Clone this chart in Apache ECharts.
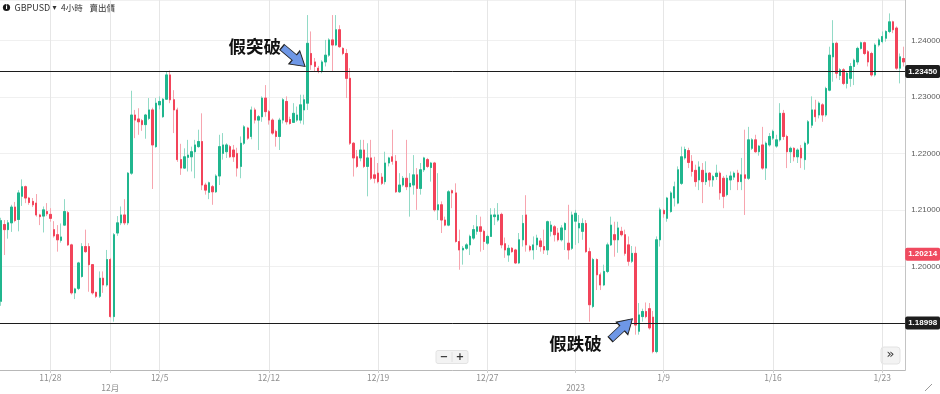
<!DOCTYPE html>
<html><head><meta charset="utf-8">
<script src="https://cdn.jsdelivr.net/npm/echarts/dist/echarts.min.js"></script>
<style>html,body{margin:0;padding:0;background:#fff}#c{width:940px;height:394px}</style>
</head><body><div id="c"></div>
<script>
// GBPUSD 4h bars: [open, close, low, high]
const bars = [
[1.1938,1.2081,1.1930,1.2086],[1.2074,1.2065,1.2020,1.2082],[1.2065,1.2077,1.2049,1.2082],[1.2077,1.2105,1.2061,1.2109],
[1.2105,1.2081,1.2078,1.2114],[1.2083,1.2130,1.2062,1.2135],[1.2124,1.2141,1.2107,1.2154],[1.2141,1.2121,1.2112,1.2143],
[1.2121,1.2113,1.2109,1.2123],[1.2115,1.2109,1.2105,1.2121],[1.2112,1.2091,1.2088,1.2128],[1.2091,1.2088,1.2073,1.2093],
[1.2089,1.2100,1.2060,1.2106],[1.2097,1.2093,1.2089,1.2112],[1.2092,1.2085,1.2079,1.2103],[1.2065,1.2054,1.2051,1.2080],
[1.2056,1.2047,1.2026,1.2073],[1.2046,1.2052,1.2042,1.2076],[1.2073,1.2097,1.2072,1.2119],[1.2095,1.2038,1.2036,1.2098],
[1.2038,1.1953,1.1950,1.2040],[1.1953,1.1960,1.1942,1.1962],[1.1961,1.2006,1.1958,1.2008],[1.1982,1.2035,1.1980,1.2041],
[1.2035,1.2026,1.2024,1.2065],[1.2035,1.2003,1.1955,1.2041],[1.2003,1.1953,1.1950,1.2004],[1.1954,1.1947,1.1944,1.1955],
[1.1947,1.1979,1.1944,1.1991],[1.1979,1.1967,1.1953,1.1991],[1.1967,1.2012,1.1964,1.2029],[1.2012,1.1911,1.1909,1.2015],
[1.1911,1.2056,1.1902,1.2059],[1.2059,1.2077,1.2054,1.2089],[1.2077,1.2091,1.2073,1.2106],[1.2091,1.2077,1.2073,1.2119],
[1.2077,1.2165,1.2073,1.2167],[1.2165,1.2268,1.2162,1.2311],[1.2268,1.2259,1.2227,1.2277],[1.2261,1.2256,1.2233,1.2280],
[1.2258,1.2251,1.2240,1.2261],[1.2251,1.2268,1.2226,1.2270],[1.2262,1.2277,1.2259,1.2298],[1.2277,1.2215,1.2137,1.2281],
[1.2212,1.2289,1.2210,1.2298],[1.2286,1.2292,1.2278,1.2301],[1.2265,1.2296,1.2263,1.2298],[1.2296,1.2339,1.2295,1.2345],
[1.2339,1.2295,1.2289,1.2347],[1.2295,1.2277,1.2236,1.2312],[1.2277,1.2189,1.2185,1.2281],[1.2189,1.2174,1.2162,1.2217],
[1.2174,1.2194,1.2173,1.2209],[1.2193,1.2197,1.2168,1.2224],[1.2194,1.2203,1.2168,1.2212],[1.2203,1.2215,1.2156,1.2224],
[1.2212,1.2221,1.2210,1.2242],[1.2221,1.2144,1.2135,1.2271],[1.2144,1.2135,1.2127,1.2148],[1.2131,1.2148,1.2119,1.2150],
[1.2141,1.2132,1.2109,1.2144],[1.2132,1.2160,1.2130,1.2163],[1.2160,1.2212,1.2144,1.2233],[1.2200,1.2215,1.2189,1.2236],
[1.2203,1.2215,1.2192,1.2218],[1.2212,1.2194,1.2192,1.2215],[1.2206,1.2194,1.2185,1.2215],[1.2200,1.2174,1.2159,1.2210],
[1.2177,1.2218,1.2156,1.2230],[1.2218,1.2247,1.2215,1.2250],[1.2245,1.2227,1.2224,1.2247],[1.2230,1.2277,1.2225,1.2283],
[1.2277,1.2259,1.2253,1.2281],[1.2259,1.2265,1.2206,1.2268],[1.2265,1.2298,1.2256,1.2301],[1.2298,1.2274,1.2265,1.2321],
[1.2274,1.2259,1.2251,1.2277],[1.2259,1.2236,1.2233,1.2262],[1.2239,1.2230,1.2212,1.2242],[1.2230,1.2259,1.2206,1.2263],
[1.2259,1.2295,1.2253,1.2298],[1.2292,1.2256,1.2251,1.2301],[1.2260,1.2253,1.2251,1.2265],[1.2255,1.2271,1.2254,1.2289],
[1.2259,1.2268,1.2256,1.2283],[1.2259,1.2286,1.2253,1.2304],[1.2277,1.2295,1.2251,1.2304],[1.2289,1.2395,1.2277,1.2445],
[1.2377,1.2357,1.2348,1.2416],[1.2362,1.2354,1.2345,1.2369],[1.2351,1.2345,1.2342,1.2355],[1.2345,1.2362,1.2342,1.2365],
[1.2362,1.2374,1.2354,1.2401],[1.2374,1.2401,1.2371,1.2404],[1.2401,1.2392,1.2345,1.2445],[1.2392,1.2419,1.2390,1.2445],
[1.2419,1.2389,1.2387,1.2427],[1.2386,1.2377,1.2374,1.2388],[1.2377,1.2333,1.2298,1.2385],[1.2333,1.2218,1.2215,1.2351],
[1.2218,1.2192,1.2159,1.2220],[1.2194,1.2177,1.2174,1.2206],[1.2192,1.2206,1.2186,1.2224],[1.2206,1.2177,1.2174,1.2224],
[1.2177,1.2192,1.2124,1.2218],[1.2192,1.2156,1.2153,1.2224],[1.2162,1.2156,1.2147,1.2194],[1.2165,1.2150,1.2147,1.2183],
[1.2158,1.2147,1.2144,1.2165],[1.2150,1.2183,1.2145,1.2203],[1.2183,1.2192,1.2177,1.2194],[1.2194,1.2186,1.2180,1.2242],
[1.2186,1.2132,1.2130,1.2197],[1.2132,1.2144,1.2130,1.2165],[1.2144,1.2156,1.2141,1.2160],[1.2156,1.2141,1.2135,1.2224],
[1.2141,1.2147,1.2088,1.2165],[1.2144,1.2162,1.2127,1.2197],[1.2162,1.2138,1.2100,1.2174],[1.2138,1.2171,1.2127,1.2183],
[1.2171,1.2192,1.2167,1.2194],[1.2189,1.2177,1.2174,1.2192],[1.2175,1.2183,1.2150,1.2185],[1.2183,1.2100,1.2097,1.2185],
[1.2100,1.2109,1.2082,1.2165],[1.2109,1.2082,1.2059,1.2115],[1.2082,1.2073,1.2071,1.2088],[1.2073,1.2132,1.2071,1.2135],
[1.2134,1.2130,1.2103,1.2136],[1.2130,1.2044,1.2042,1.2147],[1.2044,1.2029,1.1994,1.2065],[1.2029,1.2032,1.2003,1.2036],
[1.2032,1.2038,1.2029,1.2041],[1.2038,1.2053,1.2020,1.2056],[1.2050,1.2065,1.2047,1.2073],[1.2062,1.2070,1.2056,1.2091],
[1.2070,1.2062,1.2026,1.2088],[1.2062,1.2044,1.2029,1.2065],[1.2041,1.2053,1.2038,1.2056],[1.2053,1.2091,1.2052,1.2103],
[1.2088,1.2091,1.2073,1.2103],[1.2082,1.2091,1.2079,1.2112],[1.2092,1.2038,1.2032,1.2095],[1.2040,1.2029,1.2015,1.2051],
[1.2020,1.2032,1.2008,1.2038],[1.2032,1.2026,1.2024,1.2034],[1.2029,1.2006,1.2004,1.2031],[1.2006,1.2047,1.2004,1.2059],
[1.2047,1.2076,1.2035,1.2091],[1.2091,1.2038,1.2026,1.2126],[1.2035,1.2029,1.2026,1.2038],[1.2029,1.2038,1.2012,1.2053],
[1.2038,1.2050,1.2029,1.2056],[1.2045,1.2035,1.2026,1.2050],[1.2035,1.2029,1.2022,1.2065],[1.2029,1.2079,1.2020,1.2081],
[1.2062,1.2073,1.2053,1.2080],[1.2070,1.2056,1.2044,1.2073],[1.2059,1.2047,1.2044,1.2068],[1.2047,1.2068,1.2044,1.2073],
[1.2065,1.2076,1.2029,1.2078],[1.2041,1.2029,1.2012,1.2109],[1.2032,1.2091,1.2029,1.2097],[1.2080,1.2094,1.2038,1.2100],
[1.2068,1.2076,1.2041,1.2091],[1.2062,1.2076,1.2047,1.2085],[1.2076,1.2026,1.2024,1.2082],[1.2026,1.1932,1.1902,1.2033],
[1.1929,1.2012,1.1926,1.2015],[1.2012,1.1985,1.1958,1.2014],[1.1985,1.1967,1.1958,1.1989],[1.1967,1.1991,1.1965,1.2003],
[1.1991,1.2038,1.1988,1.2042],[1.2038,1.2073,1.2036,1.2088],[1.2056,1.2047,1.2017,1.2079],[1.2047,1.2068,1.2024,1.2079],
[1.2062,1.2056,1.2053,1.2070],[1.2056,1.2023,1.2019,1.2065],[1.2038,1.2009,1.2001,1.2053],[1.2009,1.2023,1.2006,1.2036],
[1.2023,1.1896,1.1879,1.2035],[1.1885,1.1914,1.1879,1.1935],[1.1911,1.1920,1.1902,1.1925],[1.1920,1.1911,1.1908,1.1936],
[1.1925,1.1891,1.1888,1.1935],[1.1910,1.1849,1.1846,1.1921],[1.1849,1.2047,1.1846,1.2053],[1.2047,1.2100,1.2035,1.2104],
[1.2099,1.2093,1.2086,1.2102],[1.2085,1.2121,1.2079,1.2123],[1.2097,1.2130,1.2095,1.2133],[1.2121,1.2141,1.2106,1.2150],
[1.2112,1.2171,1.2110,1.2177],[1.2147,1.2194,1.2144,1.2212],[1.2192,1.2207,1.2189,1.2212],[1.2205,1.2184,1.2174,1.2210],
[1.2186,1.2168,1.2159,1.2197],[1.2170,1.2150,1.2141,1.2180],[1.2153,1.2176,1.2135,1.2186],[1.2170,1.2150,1.2112,1.2183],
[1.2150,1.2165,1.2144,1.2186],[1.2165,1.2153,1.2141,1.2167],[1.2153,1.2159,1.2141,1.2162],[1.2159,1.2165,1.2153,1.2180],
[1.2165,1.2130,1.2118,1.2168],[1.2156,1.2124,1.2103,1.2160],[1.2127,1.2156,1.2124,1.2162],[1.2153,1.2160,1.2135,1.2168],
[1.2158,1.2165,1.2153,1.2168],[1.2165,1.2150,1.2135,1.2171],[1.2150,1.2162,1.2135,1.2192],[1.2162,1.2156,1.2091,1.2242],
[1.2156,1.2224,1.2153,1.2247],[1.2209,1.2224,1.2206,1.2227],[1.2224,1.2203,1.2201,1.2233],[1.2203,1.2213,1.2196,1.2215],
[1.2215,1.2174,1.2171,1.2247],[1.2174,1.2218,1.2153,1.2221],[1.2215,1.2230,1.2212,1.2236],[1.2227,1.2239,1.2224,1.2242],
[1.2213,1.2224,1.2210,1.2233],[1.2224,1.2271,1.2221,1.2289],[1.2271,1.2230,1.2224,1.2277],[1.2230,1.2203,1.2174,1.2233],
[1.2203,1.2209,1.2183,1.2212],[1.2209,1.2194,1.2186,1.2211],[1.2194,1.2206,1.2183,1.2209],[1.2209,1.2192,1.2174,1.2215],
[1.2189,1.2218,1.2171,1.2221],[1.2218,1.2256,1.2215,1.2259],[1.2250,1.2277,1.2245,1.2301],[1.2277,1.2265,1.2256,1.2295],
[1.2268,1.2289,1.2262,1.2292],[1.2286,1.2268,1.2256,1.2289],[1.2268,1.2315,1.2265,1.2318],[1.2312,1.2374,1.2310,1.2389],
[1.2371,1.2395,1.2327,1.2436],[1.2395,1.2342,1.2333,1.2398],[1.2338,1.2348,1.2330,1.2351],[1.2348,1.2324,1.2321,1.2351],
[1.2324,1.2342,1.2315,1.2345],[1.2333,1.2354,1.2318,1.2360],[1.2354,1.2365,1.2321,1.2368],[1.2362,1.2386,1.2357,1.2389],
[1.2386,1.2396,1.2384,1.2398],[1.2396,1.2377,1.2374,1.2398],[1.2380,1.2362,1.2354,1.2383],[1.2377,1.2339,1.2336,1.2380],
[1.2339,1.2392,1.2336,1.2395],[1.2392,1.2401,1.2389,1.2404],[1.2398,1.2407,1.2395,1.2416],[1.2404,1.2416,1.2398,1.2418],
[1.2416,1.2433,1.2413,1.2448],[1.2433,1.2419,1.2413,1.2435],[1.2422,1.2351,1.2348,1.2425],[1.2351,1.2371,1.2324,1.2377],
[1.2368,1.2362,1.2354,1.2389]
];
// bar index where each week / month starts, with its label
const weekStarts = [14, 45, 76, 107, 138, 188, 219, 250];
const weekLabels = ['11/28', '12/5', '12/12', '12/19', '12/27', '1/9', '1/16', '1/23'];
const monthStarts = [31, 163];
const monthLabels = ['12月', '2023'];
// horizontal levels and the price tag
const levels = [1.2345, 1.18998];
const priceTag = 1.20214;
const notes = ['假突破', '假跌破'];

const UP = '#20b68e', DN = '#f2445a', UPW = '#92dac6', DNW = '#f7a5af';
const FONT = '"Noto Sans CJK TC", "Liberation Sans", sans-serif';
const cats = bars.map((_, i) => String(i));
const weekMap = {}; weekStarts.forEach((k, j) => { weekMap[k] = weekLabels[j]; });
const monthMap = {}; monthStarts.forEach((k, j) => { monthMap[k] = monthLabels[j]; });
const isWeek = i => weekMap[i] !== undefined;
const isMonth = i => monthMap[i] !== undefined;
const isLine = i => isWeek(i) || isMonth(i);
const bodies = bars.map(b => [b[0], b[1], Math.min(b[0], b[1]), Math.max(b[0], b[1])]);

const tag = (val, bg, line) => ({
  yAxis: val,
  lineStyle: { color: line ? '#1c1c1c' : 'rgba(0,0,0,0)', width: 1, type: 'solid' },
  label: { show: true, position: 'end', distance: 0, formatter: val.toFixed(5),
    backgroundColor: bg, color: '#fff', fontWeight: 'bold', fontSize: 8,
    fontFamily: '"Liberation Sans", sans-serif', padding: [3, 3, 2, 3], borderRadius: 2 }
});
const ARROW = 'path://M0,5 L16,5 L16,0 L30,8.5 L16,17 L16,12 L0,12 Z';
const noteText = (txt, c) => ({ coord: c, symbol: 'rect', symbolSize: 1,
  itemStyle: { color: 'rgba(0,0,0,0)' },
  label: { show: true, position: 'inside', formatter: txt, color: '#111', fontSize: 17.5,
    fontWeight: 'bold', fontFamily: FONT } });
const noteArrow = (c, rot) => ({ coord: c, symbol: ARROW, symbolSize: [30, 17], symbolRotate: rot,
  itemStyle: { color: '#6e97e6', borderColor: '#222', borderWidth: 1 }, label: { show: false } });

const chart = echarts.init(document.getElementById('c'));
chart.setOption({
  animation: false,
  backgroundColor: '#fff',
  grid: { left: -0.76, right: 34.83, top: 0, height: 370, containLabel: false, outerBoundsMode: 'none' },
  xAxis: [
    { type: 'category', data: cats, boundaryGap: true,
      axisLine: { lineStyle: { color: '#b8b8b8' } },
      axisTick: { show: true, interval: i => isLine(i), alignWithLabel: true, length: 3, lineStyle: { color: '#cfcfcf' } },
      axisLabel: { interval: i => isWeek(i), formatter: (v, i) => weekMap[i] || '', color: '#8f8f8f',
        fontSize: 8.5, margin: 4, fontFamily: FONT },
      splitLine: { show: true, interval: i => isLine(i), alignWithLabel: true, lineStyle: { color: '#e6e6e6' } } },
    { type: 'category', data: cats, boundaryGap: true, position: 'bottom', offset: 10,
      axisLine: { show: false }, axisTick: { show: false }, splitLine: { show: false },
      axisLabel: { interval: i => isMonth(i), formatter: (v, i) => monthMap[i] || '', color: '#8f8f8f',
        fontSize: 8.5, margin: 4, fontFamily: FONT } }
  ],
  yAxis: { type: 'value', position: 'right', min: 1.18164, max: 1.24717, splitNumber: 5,
    axisLine: { show: true, lineStyle: { color: '#c4c4c4' } }, axisTick: { show: false },
    axisLabel: { formatter: v => v.toFixed(5), color: '#5a5a5a', fontSize: 8, margin: 6,
      showMinLabel: false, showMaxLabel: false, fontFamily: '"Liberation Sans", sans-serif' },
    splitLine: { lineStyle: { color: '#f0f0f0' } } },
  series: [
    { type: 'candlestick', data: bars, barWidth: 1.9, silent: true,
      itemStyle: { color: UPW, color0: DNW, borderColor: UPW, borderColor0: DNW, borderColorDoji: UPW, borderWidth: 1 } },
    { type: 'candlestick', data: bodies, barWidth: 1.9, silent: true,
      itemStyle: { color: UP, color0: DN, borderColor: UP, borderColor0: DN, borderColorDoji: UP, borderWidth: 1 },
      markLine: { symbol: ['none', 'none'], silent: true, animation: false, precision: 5,
        data: [tag(levels[0], '#1d1d1d', true), tag(levels[1], '#1d1d1d', true), tag(priceTag, '#f04a5f', false)] },
      markPoint: { silent: true, animation: false, data: [
        noteText(notes[0], ['72', 1.2389]),
        noteArrow(['83', 1.2371], -40),
        noteText(notes[1], ['163', 1.1863]),
        noteArrow(['176', 1.1889], 43)
      ] } }
  ],
  graphic: [
    { type: 'circle', shape: { cx: 6.5, cy: 7.5, r: 3.6 }, style: { fill: '#1a1a1a' } },
    { type: 'text', style: { x: 6.5, y: 7.8, text: 'i', fill: '#fff', fontSize: 6, fontWeight: 'bold', align: 'center', verticalAlign: 'middle', fontFamily: 'DejaVu Sans' } },
    { type: 'text', style: { x: 14.5, y: 7.5, text: 'GBPUSD', fill: '#333', fontSize: 9, fontFamily: FONT, verticalAlign: 'middle' } },
    { type: 'text', style: { x: 52.5, y: 7.5, text: '▾', fill: '#333', fontSize: 8, fontFamily: 'DejaVu Sans', verticalAlign: 'middle' } },
    { type: 'text', style: { x: 61, y: 7.5, text: '4小時', fill: '#333', fontSize: 8.5, fontFamily: FONT, verticalAlign: 'middle' } },
    { type: 'text', style: { x: 89.5, y: 7.5, text: '賣出價', fill: '#333', fontSize: 8.5, fontFamily: FONT, verticalAlign: 'middle' } },
    { type: 'rect', shape: { x: 436, y: 350.5, width: 32, height: 13, r: 2 }, style: { fill: '#f3f3f3', stroke: '#e3e3e3' } },
    { type: 'line', shape: { x1: 452, y1: 352, x2: 452, y2: 362 }, style: { stroke: '#e0e0e0' } },
    { type: 'text', style: { x: 444, y: 357, text: '−', fill: '#333', fontSize: 10, fontWeight: 'bold', fontFamily: 'DejaVu Sans', align: 'center', verticalAlign: 'middle' } },
    { type: 'text', style: { x: 460, y: 357, text: '+', fill: '#333', fontSize: 10, fontWeight: 'bold', fontFamily: 'DejaVu Sans', align: 'center', verticalAlign: 'middle' } },
    { type: 'rect', shape: { x: 881, y: 347, width: 19, height: 17, r: 3 }, style: { fill: '#f3f3f3', stroke: '#e3e3e3' } },
    { type: 'text', style: { x: 890.5, y: 355, text: '»', fill: '#333', fontSize: 13, fontFamily: 'DejaVu Sans', align: 'center', verticalAlign: 'middle' } },
    { type: 'line', shape: { x1: 925, y1: 391, x2: 932, y2: 384 }, style: { stroke: '#999', lineWidth: 1 } }
  ]
});
</script>
</body></html>
